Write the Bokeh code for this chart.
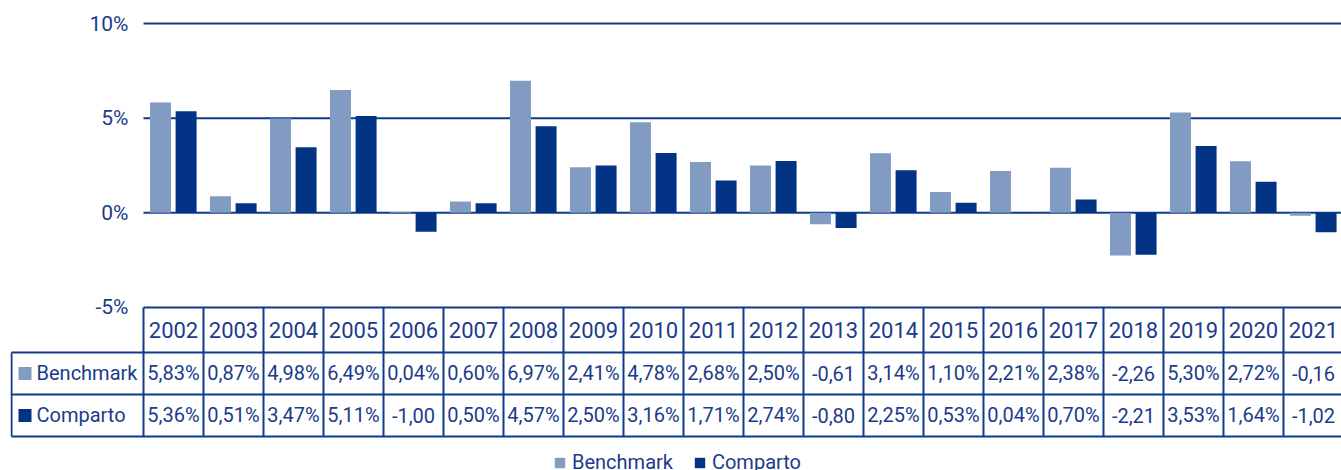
from bokeh.plotting import figure
from bokeh.models import ColumnDataSource, Range1d, Legend, LegendItem
from bokeh.transform import dodge
from bokeh.core.properties import value
from bokeh.embed import file_html
from bokeh.resources import INLINE

# ---------------- data ----------------
years = ["2002", "2003", "2004", "2005", "2006", "2007", "2008", "2009", "2010", "2011",
         "2012", "2013", "2014", "2015", "2016", "2017", "2018", "2019", "2020", "2021"]
benchmark = [5.83, 0.87, 4.98, 6.49, 0.04, 0.60, 6.97, 2.41, 4.78, 2.68,
             2.50, -0.61, 3.14, 1.10, 2.21, 2.38, -2.26, 5.30, 2.72, -0.16]
comparto = [5.36, 0.51, 3.47, 5.11, -1.00, 0.50, 4.57, 2.50, 3.16, 1.71,
            2.74, -0.80, 2.25, 0.53, 0.04, 0.70, -2.21, 3.53, 1.64, -1.02]
benchmark_labels = ["5,83%", "0,87%", "4,98%", "6,49%", "0,04%", "0,60%", "6,97%", "2,41%", "4,78%", "2,68%",
                    "2,50%", "-0,61", "3,14%", "1,10%", "2,21%", "2,38%", "-2,26", "5,30%", "2,72%", "-0,16"]
comparto_labels = ["5,36%", "0,51%", "3,47%", "5,11%", "-1,00", "0,50%", "4,57%", "2,50%", "3,16%", "1,71%",
                   "2,74%", "-0,80", "2,25%", "0,53%", "0,04%", "0,70%", "-2,21", "3,53%", "1,64%", "-1,02"]
series_names = ["Benchmark", "Comparto"]
y_ticks = [10, 5, 0, -5]
y_tick_labels = ["10%", "5%", "0%", "-5%"]

# ---------------- style ----------------
C_BENCH = "#829BC2"
C_COMP = "#033384"
C_LINE = "#0E3B8C"
C_TEXT = "#1B3B8B"
FONT = "Roboto"

n = len(years)
idx = list(range(n))

# layout in data units (x: one unit per column, y: percent)
X0 = -2.7167
X1 = 19.467
Y0 = -13.611
Y1 = 11.215
LEFT_EDGE = -2.7
HDR_BOT = -7.377
ROW1_BOT = -9.596
ROW2_BOT = -11.815

p = figure(width=1341, height=470, output_backend="svg", toolbar_location=None,
           x_range=Range1d(X0, X1), y_range=Range1d(Y0, Y1),
           min_border_left=10, min_border_right=0, min_border_top=0, min_border_bottom=0)
p.axis.visible = False
p.grid.visible = False
p.outline_line_color = None
p.background_fill_color = "white"
p.border_fill_color = "white"

# grid lines
p.segment(x0=[-0.5] * len(y_ticks), x1=[X1 + 1] * len(y_ticks), y0=y_ticks, y1=y_ticks,
          line_color=C_LINE, line_width=2)

# bars
src = ColumnDataSource(dict(idx=idx, year=years, bench=benchmark, comp=comparto,
                            bl=benchmark_labels, cl=comparto_labels))
r_b = p.vbar(x=dodge("idx", -0.217, range=None), top="bench", bottom=0, width=0.35,
             source=src, fill_color=C_BENCH, line_color=None)
r_c = p.vbar(x=dodge("idx", 0.21, range=None), top="comp", bottom=0, width=0.35,
             source=src, fill_color=C_COMP, line_color=None)

# y tick labels
p.text(x=[-0.75] * len(y_ticks), y=y_ticks, text=y_tick_labels, text_align="right",
       text_baseline="middle", text_color=C_TEXT, text_font=value(FONT), text_font_size="21px")

# ---- data table ----
p.segment(x0=[LEFT_EDGE] * 3, x1=[X1 + 1] * 3, y0=[HDR_BOT, ROW1_BOT, ROW2_BOT],
          y1=[HDR_BOT, ROW1_BOT, ROW2_BOT], line_color=C_LINE, line_width=2)
vx = [i - 0.5 for i in range(n + 1)]
p.segment(x0=vx, x1=vx, y0=[-5] * len(vx), y1=[ROW2_BOT] * len(vx), line_color=C_LINE, line_width=2)
p.segment(x0=[LEFT_EDGE], x1=[LEFT_EDGE], y0=[HDR_BOT], y1=[ROW2_BOT], line_color=C_LINE, line_width=2)

ymid_h = (-5 + HDR_BOT) / 2
ymid_1 = (HDR_BOT + ROW1_BOT) / 2
ymid_2 = (ROW1_BOT + ROW2_BOT) / 2
p.text(x="idx", y=ymid_h, text="year", source=src, text_align="center", text_baseline="middle",
       text_color=C_TEXT, text_font=value(FONT), text_font_size="22px")
p.text(x="idx", y=ymid_1, text="bl", source=src, text_align="center", text_baseline="middle",
       text_color=C_TEXT, text_font=value(FONT), text_font_size="20px")
p.text(x="idx", y=ymid_2, text="cl", source=src, text_align="center", text_baseline="middle",
       text_color=C_TEXT, text_font=value(FONT), text_font_size="20px")

# row headers
p.scatter(x=[-2.475, -2.475], y=[ymid_1, ymid_2], marker="square", size=13,
          fill_color=[C_BENCH, C_COMP], line_color=None)
p.text(x=[-2.283, -2.283], y=[ymid_1, ymid_2], text=series_names, text_align="left",
       text_baseline="middle", text_color=C_TEXT, text_font=value(FONT), text_font_size="20px")

# legend
legend = Legend(items=[LegendItem(label=series_names[0], renderers=[r_b]),
                       LegendItem(label=series_names[1], renderers=[r_c])],
                orientation="horizontal", location=(543, -4),
                padding=0, margin=0, spacing=20, label_standoff=6,
                glyph_width=13, glyph_height=13, label_height=20,
                border_line_color=None, background_fill_alpha=0,
                label_text_font=FONT, label_text_font_size="20px", label_text_color=C_TEXT)
p.add_layout(legend)

open("out.html", "w").write(file_html(p, INLINE))
